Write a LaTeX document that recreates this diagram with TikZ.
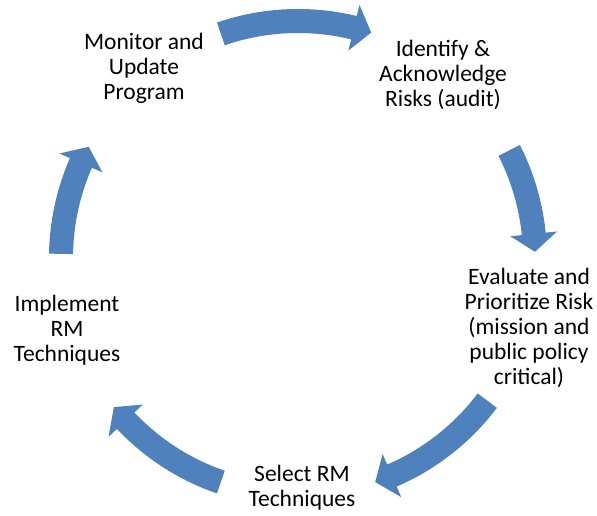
\documentclass[tikz,border=0pt]{standalone}
\usepackage{fontspec}
\setmainfont{Carlito}
\usetikzlibrary{calc, positioning}

\definecolor{cycleblue}{RGB}{79,129,189}

% curved block arrow on the ring round (hub): tail angle, tip angle
\newcommand{\cyclearrow}[2]{%
  \fill[blockarrow]
    ($(hub)+(#1:249)$) arc[start angle=#1, end angle=#2+4.35, radius=249]
    -- ($(hub)+(#2+4.35:260.5)$)
    -- ($(hub)+(#2:237)$)
    -- ($(hub)+(#2+4.35:213.5)$)
    -- ($(hub)+(#2+4.35:225)$)
    arc[start angle=#2+4.35, end angle=#1, radius=225]
    -- cycle;}

\begin{document}
\begin{tikzpicture}[x=1pt, y=1pt,
    stage/.style={align=center, font=\fontsize{23.5}{25}\selectfont, inner sep=0pt},
    blockarrow/.style={fill=cycleblue}]

    \useasboundingbox (0,0) rectangle (597,515);
    \coordinate (hub) at (298,257);

    % The five stages round the ring
    \node[stage] (monitor) at (144,447) {Monitor and\\Update\\Program};
    \node[stage] (identify) at (443,440) {Identify \&\\Acknowledge\\Risks (audit)};
    \node[stage] (evaluate) at (529,187) {Evaluate and\\Prioritize Risk\\(mission and\\public policy\\critical)};
    \node[stage] (select) at (302,27) {Select RM\\Techniques};
    \node[stage] (implement) at (67,185) {Implement\\RM\\Techniques};

    % Arrows between the stages
    \cyclearrow{109}{72}
    \cyclearrow{27}{1.5}
    \cyclearrow{-37}{-71}
    \cyclearrow{-109}{-141}
    \cyclearrow{179}{152}

\end{tikzpicture}
\end{document}
